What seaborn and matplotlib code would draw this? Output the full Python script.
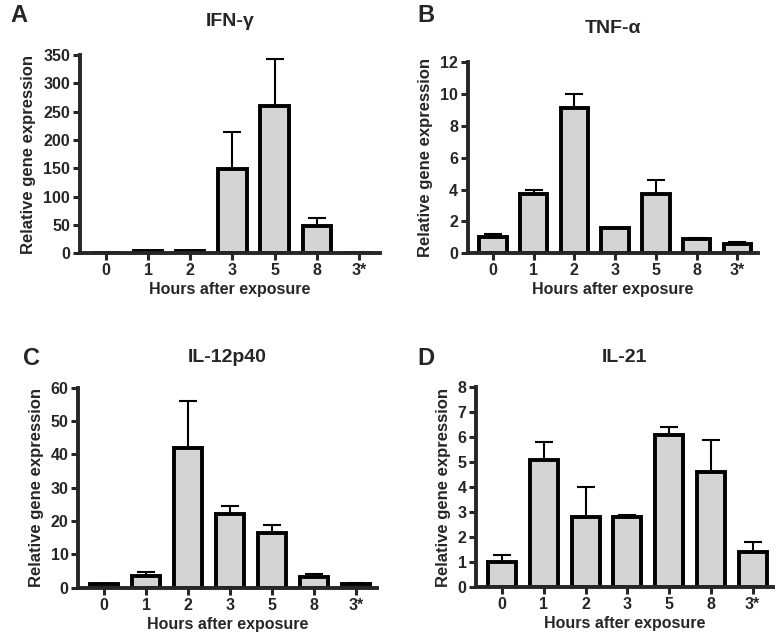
import numpy as np
import pandas as pd
import matplotlib
matplotlib.use('Agg')
import matplotlib.pyplot as plt
import seaborn as sns

# Data (mean and upper error bar top)
hours = ['0', '1', '2', '3', '5', '8', '3*']

ifn_mean = [1.0, 3.0, 3.0, 148, 260, 48, 0.5]
ifn_top = [1.0, 3.0, 3.0, 215, 343, 63, 0.5]

tnf_mean = [1.0, 3.7, 9.1, 1.6, 3.7, 0.9, 0.6]
tnf_top = [1.2, 4.0, 10.0, 1.6, 4.6, 0.95, 0.7]

il12_mean = [1.0, 3.5, 42, 22, 16.5, 3.2, 1.0]
il12_top = [1.2, 4.8, 56, 24.5, 18.8, 4.0, 1.4]

il21_mean = [1.0, 5.1, 2.8, 2.8, 6.1, 4.6, 1.4]
il21_top = [1.3, 5.8, 4.0, 2.9, 6.4, 5.9, 1.8]

sns.set_style('ticks')
plt.rcParams['font.family'] = ['Liberation Sans', 'DejaVu Sans']
plt.rcParams['font.weight'] = 'bold'

fig = plt.figure(figsize=(7.82, 6.41), dpi=100)

panels = [
    ('A', 'IFN-\u03b3', ifn_mean, ifn_top, 350, 50, [0.102, 0.605, 0.384, 0.309]),
    ('B', 'TNF-\u03b1', tnf_mean, tnf_top, 12, 2, [0.598, 0.605, 0.371, 0.298]),
    ('C', 'IL-12p40', il12_mean, il12_top, 60, 10, [0.100, 0.083, 0.382, 0.312]),
    ('D', 'IL-21', il21_mean, il21_top, 8, 1, [0.609, 0.084, 0.380, 0.312]),
]

for letter, title, mean, top, ymax, step, rect in panels:
    ax = fig.add_axes(rect)
    df = pd.DataFrame({'hours': hours, 'value': mean})
    sns.barplot(data=df, x='hours', y='value', color='#d4d4d4', saturation=1,
                edgecolor='black', linewidth=2.8, width=0.67, errorbar=None, ax=ax)
    err = np.array(top) - np.array(mean)
    ax.errorbar(np.arange(len(hours)), mean, yerr=[np.zeros(len(mean)), err],
                fmt='none', ecolor='black', elinewidth=1.5, capsize=6.5, capthick=1.5,
                zorder=1)
    ax.set_xlim(-0.62, 6.5)
    ax.set_ylim(0, ymax)
    ax.set_yticks(np.arange(0, ymax + step / 2, step))
    sns.despine(ax=ax)
    for s in ['left', 'bottom']:
        ax.spines[s].set_linewidth(2.8)
    ax.tick_params(width=2.2, length=5, labelsize=11.5, pad=2)
    for lab in ax.get_xticklabels() + ax.get_yticklabels():
        lab.set_fontweight('bold')
    ax.set_xlabel('Hours after exposure', fontsize=11.5, fontweight='bold', labelpad=3)
    ax.set_ylabel('Relative gene expression', fontsize=12, fontweight='bold', labelpad=5)

    # title and panel letter in figure coords
    l, b, w, h = rect
    cx = l + w * 0.5
    ty = b + h + (0.052 if letter in 'AB' else 0.047)
    fig.text(cx, ty, title, ha='center', va='center', fontsize=14, fontweight='bold')
    lx = 0.013 if letter == 'A' else (0.030 if letter == 'C' else 0.534)
    ly = 0.976 if letter in 'AB' else 0.440
    fig.text(lx, ly, letter, ha='left', va='center', fontsize=17, fontweight='bold')

plt.savefig('out.png', dpi=100)
